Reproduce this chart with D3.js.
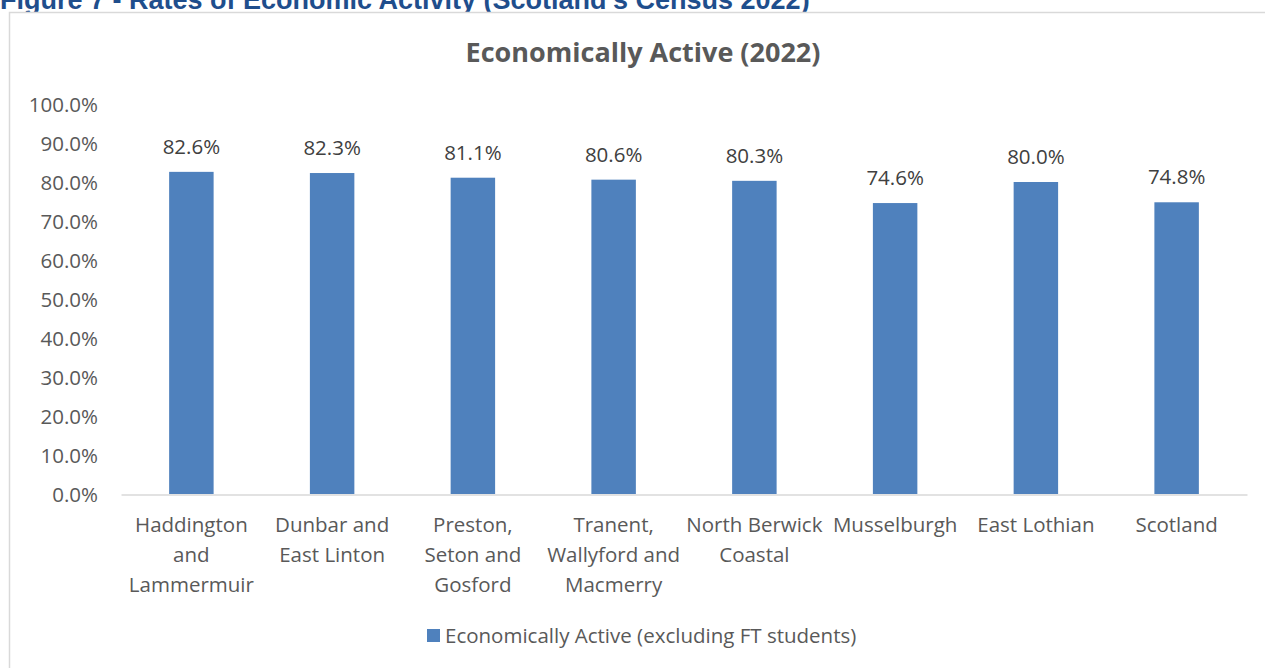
<!DOCTYPE html>
<html><head><meta charset="utf-8">
<script src="https://cdn.jsdelivr.net/npm/d3@7"></script>
<style>
html,body{margin:0;padding:0;background:#fff;overflow:hidden}
svg{display:block}
</style></head>
<body>
<svg id="c" width="1265" height="668"></svg>
<script>
const categories = [
  ["Haddington","and","Lammermuir"],
  ["Dunbar and","East Linton"],
  ["Preston,","Seton and","Gosford"],
  ["Tranent,","Wallyford and","Macmerry"],
  ["North Berwick","Coastal"],
  ["Musselburgh"],
  ["East Lothian"],
  ["Scotland"]
];
const values = [82.6, 82.3, 81.1, 80.6, 80.3, 74.6, 80.0, 74.8];
const yTicks = [0,10,20,30,40,50,60,70,80,90,100];
const seriesName = "Economically Active (excluding FT students)";
const chartTitle = "Economically Active (2022)";
const figureTitle = "Figure 7 - Rates of Economic Activity (Scotland's Census 2022)";

const svg = d3.select("#c");
const font = "'Open Sans', sans-serif";
const fs = 20.5;

// figure header (cut off at top)
svg.append("text").attr("x",0).attr("y",9)
  .attr("font-family","Liberation Sans, Arial, sans-serif").attr("font-weight","bold")
  .attr("font-size",27).attr("fill","#1f4e8c").text(figureTitle);

// chart frame
svg.append("rect").attr("x",9.5).attr("y",12.5).attr("width",1300).attr("height",700)
  .attr("fill","#fff").attr("stroke","#d9d9d9").attr("stroke-width",1.5);

const x = d3.scaleBand().domain(d3.range(categories.length)).range([121,1247]).paddingInner(0.684).paddingOuter(0.342);
const y = d3.scaleLinear().domain([0,100]).range([494,104]);

// title
svg.append("text").attr("x",643).attr("y",62).attr("text-anchor","middle")
  .attr("font-family",font).attr("font-weight","bold").attr("font-size",27)
  .attr("fill","#595959").text(chartTitle);

// y axis
const yAxis = d3.axisLeft(y).tickValues(yTicks).tickSize(0).tickPadding(0)
  .tickFormat(d => d.toFixed(1) + "%");
const gy = svg.append("g").attr("transform","translate(98,0)").call(yAxis);
gy.select(".domain").remove();
gy.selectAll("text").attr("font-family",font).attr("font-size",fs).attr("fill","#595959").attr("dy","0.35em");

// bars
svg.append("g").selectAll("rect").data(values).join("rect")
  .attr("x",(d,i)=>x(i)).attr("width",x.bandwidth())
  .attr("y",d=>y(d)).attr("height",d=>y(0)-y(d)).attr("fill","#4f81bd");

// x axis
const xAxis = d3.axisBottom(x).tickSize(0).tickFormat("");
const gx = svg.append("g").attr("transform","translate(0,494.5)").call(xAxis);
gx.select(".domain").attr("stroke","#d9d9d9").attr("stroke-width",1.5);

// category labels
const cl = svg.append("g").selectAll("text").data(categories).join("text")
  .attr("x",(d,i)=>x(i)+x.bandwidth()/2).attr("y",532)
  .attr("text-anchor","middle").attr("font-family",font).attr("font-size",fs).attr("fill","#595959");
cl.selectAll("tspan").data(d=>d).join("tspan")
  .attr("x",function(){return d3.select(this.parentNode).attr("x");})
  .attr("dy",(d,i)=>i===0?0:30).text(d=>d);

// data labels
svg.append("g").selectAll("text").data(values).join("text")
  .attr("x",(d,i)=>x(i)+x.bandwidth()/2).attr("y",d=>y(d)-18)
  .attr("text-anchor","middle").attr("font-family",font).attr("font-size",fs).attr("fill","#404040")
  .text(d=>d.toFixed(1)+"%");

// legend
const lg = svg.append("g").attr("transform","translate(427,629)");
lg.append("rect").attr("width",13).attr("height",13).attr("fill","#4f81bd");
lg.append("text").attr("x",18).attr("y",7).attr("dy","0.35em").attr("font-family",font)
  .attr("font-size",fs).attr("fill","#595959").text(seriesName);
</script>
</body></html>
